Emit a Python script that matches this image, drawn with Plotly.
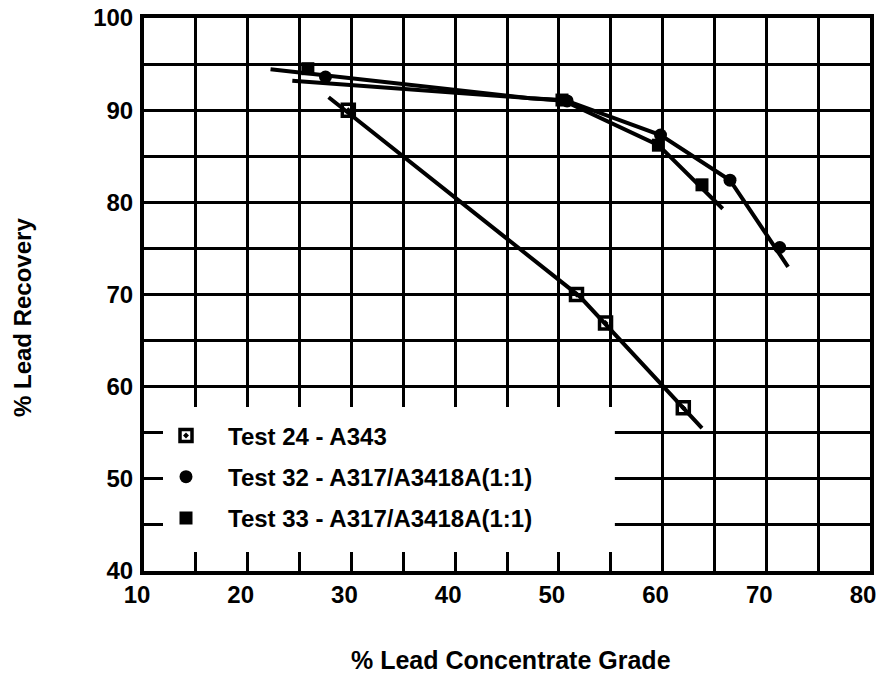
import plotly.graph_objects as go

# ---- axis ticks ----
x_ticks = [10, 15, 20, 25, 30, 35, 40, 45, 50, 55, 60, 65, 70, 75, 80]
x_tick_text = ["10", "", "20", "", "30", "", "40", "", "50", "", "60", "", "70", "", "80"]
y_ticks = [40, 45, 50, 55, 60, 65, 70, 75, 80, 85, 90, 95, 100]
y_tick_text = ["40", "", "50", "", "60", "", "70", "", "80", "", "90", "", "100"]

# ---- measured points ----
t24_grade = [29.7, 51.7, 54.5, 62.0]
t24_recovery = [90.0, 70.0, 66.9, 57.7]
t32_grade = [27.5, 50.8, 59.8, 66.5, 71.3]
t32_recovery = [93.6, 91.0, 87.3, 82.4, 75.1]
t33_grade = [25.8, 50.3, 59.6, 63.8]
t33_recovery = [94.5, 91.1, 86.2, 81.9]

# ---- hand-fitted curves ----
t24_fit_grade = [27.8, 52.0, 63.8]
t24_fit_recovery = [91.4, 69.8, 55.5]
t32_fit_grade = [24.3, 50.8, 59.8, 66.5, 72.1]
t32_fit_recovery = [93.2, 91.0, 87.3, 82.4, 73.0]
t33_fit_grade = [22.2, 47.2, 50.3, 59.6, 65.8]
t33_fit_recovery = [94.45, 91.3, 91.1, 86.2, 79.3]

names = ["Test 24 - A343", "Test 32 - A317/A3418A(1:1)", "Test 33 - A317/A3418A(1:1)"]

FONT = "Liberation Sans, Arial, Helvetica, sans-serif"
fig = go.Figure()

line_style = dict(color="black", width=4)
for gx, gy in [(t24_fit_grade, t24_fit_recovery), (t32_fit_grade, t32_fit_recovery),
               (t33_fit_grade, t33_fit_recovery)]:
    fig.add_trace(go.Scatter(x=gx, y=gy, mode="lines", line=line_style,
                             showlegend=False, hoverinfo="skip"))

fig.add_trace(go.Scatter(x=t24_grade, y=t24_recovery, mode="markers", name=names[0],
                         legendgroup="a",
                         marker=dict(symbol="square-open-dot", size=12, color="black",
                                     line=dict(color="black", width=3.5))))
fig.add_trace(go.Scatter(x=t32_grade, y=t32_recovery, mode="markers", name=names[1],
                         legendgroup="b",
                         marker=dict(symbol="circle", size=13, color="black")))
fig.add_trace(go.Scatter(x=t33_grade, y=t33_recovery, mode="markers", name=names[2],
                         legendgroup="c",
                         marker=dict(symbol="square", size=13, color="black")))

# white box behind legend (hides grid, keeps axis ticks)
fig.add_shape(type="rect", xref="x", yref="y", x0=10, x1=55.4, y0=40, y1=57.8,
              fillcolor="white", line=dict(width=0), layer="between")

axis_common = dict(showgrid=True, gridcolor="black", gridwidth=3,
                   showline=True, linecolor="black", linewidth=4, mirror=True,
                   ticks="inside", ticklen=19, tickwidth=3, tickcolor="black",
                   zeroline=False, tickmode="array", automargin=False,
                   ticklabeloverflow="allow",
                   tickfont=dict(family=FONT, size=24, color="black", weight="bold"))

fig.update_xaxes(range=[10, 80], tickvals=x_ticks, ticktext=x_tick_text,
                 ticklabelstandoff=-1, ticklabelshift=-7, **axis_common)
fig.update_yaxes(range=[40, 100], tickvals=y_ticks, ticktext=y_tick_text,
                 ticklabelstandoff=2, **axis_common)

fig.add_annotation(text="% Lead Recovery", xref="paper", yref="paper",
                   x=-0.168, y=0.4575, xanchor="center", yanchor="middle",
                   textangle=-90, showarrow=False,
                   font=dict(family=FONT, size=24, color="black", weight="bold"))
fig.add_annotation(text="% Lead Concentrate Grade", xref="paper", yref="paper",
                   x=0.505, y=-0.161, xanchor="center", yanchor="middle",
                   showarrow=False,
                   font=dict(family=FONT, size=25, color="black", weight="bold"))

fig.update_layout(
    width=878, height=667,
    margin=dict(l=136, r=16, t=10, b=104, autoexpand=False),
    paper_bgcolor="white", plot_bgcolor="white",
    showlegend=True,
    legend=dict(x=0, y=0.285, xanchor="left", yanchor="top",
                bgcolor="rgba(0,0,0,0)", itemwidth=74, traceorder="grouped",
                tracegroupgap=7,
                font=dict(family=FONT, size=24, color="black", weight="bold")),
)

fig.write_html("out.html")
